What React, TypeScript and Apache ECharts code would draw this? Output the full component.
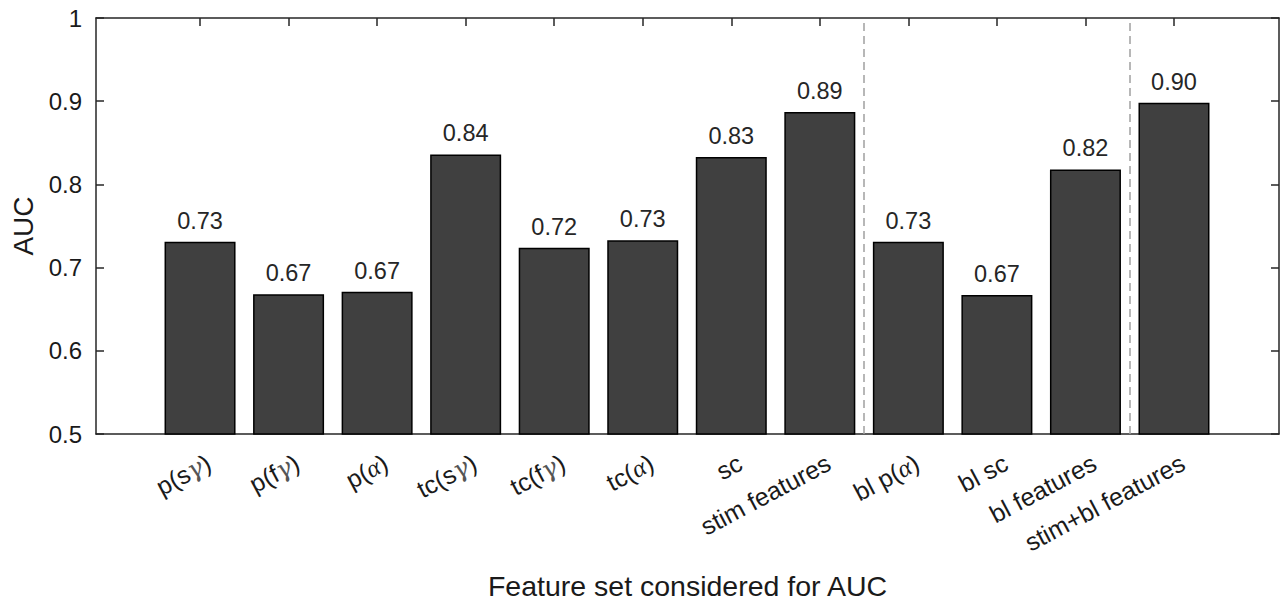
import React, { useEffect, useRef } from "react";
import * as echarts from "echarts";

const categories = [
  "p(sγ)",
  "p(fγ)",
  "p(α)",
  "tc(sγ)",
  "tc(fγ)",
  "tc(α)",
  "sc",
  "stim features",
  "bl p(α)",
  "bl sc",
  "bl features",
  "stim+bl features",
];
const aucValues = [0.731, 0.668, 0.671, 0.836, 0.724, 0.733, 0.833, 0.887, 0.731, 0.667, 0.818, 0.898];
const dividerPositions = [7.5, 10.5];
const yTickValues = [0.5, 0.6, 0.7, 0.8, 0.9, 1];

const X_MIN = -1.175;
const X_MAX = 12.186;
const LABEL_SHIFT = 0.1;
const FONT = "'Liberation Sans', Arial, Helvetica, sans-serif";
const AXIS_COLOR = "#262626";

const tickPositions = categories.map((_, i) => i);
const labelPositions = categories.map((_, i) => i + LABEL_SHIFT);

function richLabel(s: string): string {
  return s.replace(/γ/g, "{g|γ}").replace(/α/g, "{a|α}");
}

export default function App() {
  const ref = useRef<HTMLDivElement>(null);
  useEffect(() => {
    if (!ref.current) return;
    const chart = echarts.init(ref.current, null, { renderer: "svg" });
    const commonX = {
      type: "value",
      min: X_MIN,
      max: X_MAX,
      splitLine: { show: false },
      axisLine: { show: true, onZero: false, lineStyle: { color: AXIS_COLOR, width: 1.5 } },
      axisTick: {
        show: true,
        inside: true,
        length: 8,
        customValues: tickPositions,
        lineStyle: { color: AXIS_COLOR, width: 1.5 },
      },
    };
    const commonY = {
      type: "value",
      min: 0.5,
      max: 1,
      interval: 0.1,
      splitLine: { show: false },
      axisLine: { show: true, onZero: false, lineStyle: { color: AXIS_COLOR, width: 1.5 } },
      axisTick: { show: true, inside: true, length: 8, lineStyle: { color: AXIS_COLOR, width: 1.5 } },
    };
    chart.setOption({
      animation: false,
      backgroundColor: "#ffffff",
      textStyle: { fontFamily: FONT },
      grid: {
        left: 96,
        top: 18,
        width: 1183,
        height: 416,
        containLabel: false,
        outerBoundsMode: "none",
      },
      xAxis: [
        {
          ...commonX,
          position: "bottom",
          name: "Feature set considered for AUC",
          nameLocation: "middle",
          nameGap: 139,
          nameTextStyle: { fontSize: 28.5, lineHeight: 26, color: "#1a1a1a", fontFamily: FONT },
          axisLabel: {
            show: true,
            customValues: labelPositions,
            rotate: 28,
            margin: 27,
            fontSize: 25,
            color: "#1a1a1a",
            fontFamily: FONT,
            formatter: (v: number) => richLabel(categories[Math.round(v)] ?? ""),
            rich: {
              g: { fontSize: 25, fontFamily: "'DejaVu Serif', 'Liberation Serif', serif", fontStyle: "italic", color: "#555" },
              a: { fontSize: 25, fontFamily: "'Liberation Serif', 'DejaVu Serif', serif", fontStyle: "italic", color: "#1a1a1a" },
            },
          },
        },
        {
          ...commonX,
          position: "top",
          axisLabel: { show: false },
        },
      ],
      yAxis: [
        {
          ...commonY,
          position: "left",
          name: "AUC",
          nameLocation: "middle",
          nameGap: 58,
          nameRotate: 90,
          nameTextStyle: { fontSize: 28, color: "#1a1a1a", fontFamily: FONT },
          axisLabel: {
            show: true,
            margin: 14,
            fontSize: 24,
            color: "#1a1a1a",
            fontFamily: FONT,
            customValues: yTickValues,
            formatter: (v: number) => String(Math.round(v * 10) / 10),
          },
        },
        {
          ...commonY,
          position: "right",
          axisLabel: { show: false },
        },
      ],
      series: [
        {
          type: "bar",
          xAxisIndex: 0,
          yAxisIndex: 0,
          barWidth: 71,
          data: aucValues.map((v, i) => [i, v]),
          itemStyle: { color: "#404040", borderColor: "#000000", borderWidth: 1.5 },
          label: {
            show: true,
            position: "top",
            distance: 9,
            fontSize: 23.5,
            color: "#262626",
            fontFamily: FONT,
            formatter: (p: any) => p.value[1].toFixed(2),
          },
          markLine: {
            silent: true,
            symbol: ["none", "none"],
            label: { show: false },
            lineStyle: { color: "#a0a0a0", type: [8, 5], width: 1.5 },
            data: dividerPositions.map((x) => ({ xAxis: x })),
          },
        },
      ],
    });
    return () => chart.dispose();
  }, []);
  return (
    <div
      ref={ref}
      style={{ position: "fixed", left: 0, top: 0, width: 1280, height: 602, background: "#fff" }}
    />
  );
}
